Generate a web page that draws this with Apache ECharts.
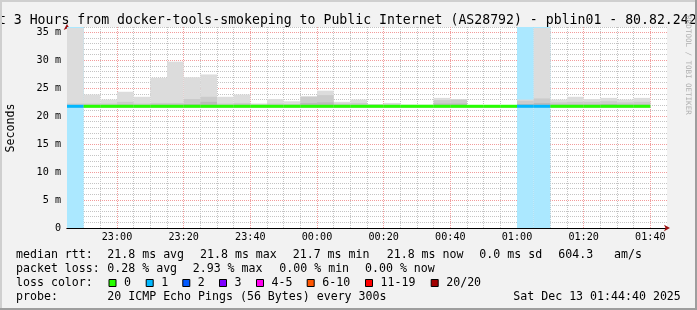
<!DOCTYPE html>
<html><head><meta charset="utf-8">
<script src="https://cdn.jsdelivr.net/npm/echarts@6/dist/echarts.min.js"></script>
<style>html,body{margin:0;padding:0;background:#f2f2f2}#c{width:697px;height:310px}</style>
</head><body><div id="c"></div>
<script>
// ---------- data ----------
const titleText = 'Last 3 Hours from docker-tools-smokeping to Public Internet (AS28792) - pblin01 - 80.82.242';
const yAxisName = 'Seconds';
const watermark = 'RRDTOOL / TOBI OETIKER';
const axisStartMin = 45;   // minutes after 22:00  (22:45)
const axisEndMin = 225;    // 01:45
const stepMin = 5;
const yMaxMs = 36;
const xTickValues = [60, 80, 100, 120, 140, 160, 180, 200, 220];
const xTickLabels = ['23:00', '23:20', '23:40', '00:00', '00:20', '00:40', '01:00', '01:20', '01:40'];
const yTickValues = [0, 5, 10, 15, 20, 25, 30, 35];
const yTickLabels = ['0', '5 m', '10 m', '15 m', '20 m', '25 m', '30 m', '35 m'];
const xMinorStep = 5;   // minutes between minor grid lines
const yMinorStep = 1;   // ms between minor grid lines

// one value per 5-minute step, starting 22:45
const smokeLow  = [21.6,21.6,21.6,21.6,21.6,21.6,21.6,21.6,21.6,21.6,21.6,21.6,21.6,21.6,21.6,21.6,21.6,21.6,21.6,21.6,21.6,21.6,21.6,21.6,21.6,21.6,21.6,21.6,21.6,21.6,21.6,21.6,21.6,21.6,21.6];
const smokeHigh = [35.8,23.9,23.0,24.4,23.5,26.9,29.8,27.0,27.5,23.5,23.9,22.3,23.1,22.7,23.6,24.6,22.6,23.0,22.2,22.4,22.1,22.1,23.3,23.1,22.0,22.0,22.0,23.0,35.8,23.0,23.5,23.1,23.3,23.0,23.3];
const smokeMid  = [22.3,22.3,22.3,22.6,22.3,22.4,22.4,23.1,23.5,22.3,22.4,22.1,22.3,22.2,23.5,23.8,22.3,22.4,22.1,22.1,22.0,22.0,22.9,23.0,21.9,21.9,21.9,22.8,23.2,22.5,22.6,22.6,22.7,22.5,22.6];
const smokeDark = [22.0,22.0,22.0,22.1,22.0,22.1,22.1,22.2,22.6,22.0,22.1,22.0,22.0,22.0,22.4,22.5,22.0,22.0,22.0,22.0,21.9,21.9,22.3,22.3,21.9,21.9,21.9,22.2,22.4,22.1,22.1,22.1,22.2,22.1,22.1];
const medianRtt = [21.8,21.8,21.8,21.8,21.8,21.8,21.8,21.8,21.8,21.8,21.8,21.8,21.8,21.8,21.8,21.8,21.8,21.8,21.8,21.8,21.8,21.8,21.8,21.8,21.8,21.8,21.8,21.8,21.8,21.8,21.8,21.8,21.8,21.8,21.8];
const lossCount = [1,0,0,0,0,0,0,0,0,0,0,0,0,0,0,0,0,0,0,0,0,0,0,0,0,0,0,1,1,0,0,0,0,0,0];

const lossLabels = ['0', '1', '2', '3', '4-5', '6-10', '11-19', '20/20'];
const lossColors = ['#26ff00', '#00b8ff', '#0059ff', '#7e00ff', '#ff00ee', '#ff5500', '#ff0000', '#a10000'];
const lossUpper  = [0, 1, 2, 3, 5, 10, 19, 20];

const rttLegend  = ['median rtt:', '21.8 ms avg', '21.8 ms max', '21.7 ms min', '21.8 ms now', '0.0 ms sd', '604.3', 'am/s'];
const lossLegend = ['packet loss:', '0.28 % avg', '2.93 % max', '0.00 % min', '0.00 % now'];
const lossColorHead = 'loss color:';
const probeLegend = ['probe:', '20 ICMP Echo Pings (56 Bytes) every 300s', 'Sat Dec 13 01:44:40 2025'];

// ---------- layout ----------
const FONT = 'DejaVu Sans Mono';
const G = {left: 67, top: 27, right: 667, bottom: 228};
const rttX = [16, 107.3, 200, 292.7, 386.7, 479.3, 558.3, 614];
const lossX = [16, 107.3, 192.7, 279.3, 365];
const swatchX = [108.5, 145.7, 182.3, 219, 256, 306.7, 365, 430.7];
const probeX = [16, 107.3, 513.3];
const rowY = [254.5, 268.5, 282.5, 296.5];
const minorColor = '#c4c4c4', majorColor = '#f29c9c', arrowColor = '#9b1010';

function bucket(n) { for (let i = 0; i < lossUpper.length; i++) if (n <= lossUpper[i]) return i; return lossUpper.length - 1; }
function lighten(hex, a) {
  const v = parseInt(hex.slice(1), 16), r = v >> 16, g = (v >> 8) & 255, b = v & 255;
  const m = c => Math.round(255 - (255 - c) * a);
  return 'rgb(' + m(r) + ',' + m(g) + ',' + m(b) + ')';
}
function xLabel(v) {
  for (let i = 0; i < xTickValues.length; i++) if (Math.abs(v - xTickValues[i]) < 1e-6) return xTickLabels[i];
  return '';
}
function yLabel(v) {
  for (let i = 0; i < yTickValues.length; i++) if (Math.abs(v - yTickValues[i]) < 1e-6) return yTickLabels[i];
  return '';
}

const steps = smokeHigh.map((_, k) => [axisStartMin + k * stepMin, axisStartMin + (k + 1) * stepMin]);
const band = (lo, hi) => steps.map((s, k) => [s[0], s[1], lo[k], hi[k]]);
const lossBars = [];
steps.forEach((s, k) => { if (lossCount[k] > 0) lossBars.push([s[0], s[1], 0, yMaxMs, bucket(lossCount[k])]); });
const medianData = steps.map((s, k) => [s[0], s[1], medianRtt[k], bucket(lossCount[k])]);

// grid line positions
const vMinor = [], hMinor = [];
for (let v = axisStartMin + xMinorStep; v < axisEndMin - 1e-9; v += xMinorStep)
  if (xTickValues.indexOf(v) < 0) vMinor.push([v, 0]);
for (let v = yMinorStep; v <= yMaxMs + 1e-9; v += yMinorStep)
  if (yTickValues.indexOf(v) < 0) hMinor.push([v, 0]);
const vMajor = xTickValues.map(v => [v, 0]);
const hMajor = yTickValues.filter(v => v > 0).map(v => [v, 0]);

// dotted grid lines drawn as 1px squares (one on, one off)
function gridSeries(data, vertical, color) {
  return {type: 'custom', xAxisIndex: 1, yAxisIndex: 1, data, silent: true,
    encode: vertical ? {x: 0, y: 1} : {y: 0, x: 1},
    renderItem: function (params, api) {
      const v = api.value(0);
      let d = '';
      if (vertical) {
        const a = api.coord([v, yMaxMs]), b = api.coord([v, 0]);
        const x = Math.floor(a[0]);
        for (let y = Math.round(a[1]); y < Math.round(b[1]); y += 2) d += 'M' + x + ' ' + y + 'h1v1h-1z';
      } else {
        const a = api.coord([axisStartMin, v]), b = api.coord([axisEndMin, v]);
        const y = Math.floor(a[1]);
        for (let x = Math.round(a[0]) + 1; x < Math.round(b[0]); x += 2) d += 'M' + x + ' ' + y + 'h1v1h-1z';
      }
      return {type: 'path', shape: {pathData: d}, style: {fill: color, stroke: null}};
    }};
}
function rectRender(fillFn) {
  return function (params, api) {
    const a = api.coord([api.value(0), api.value(3)]);
    const b = api.coord([api.value(1), api.value(2)]);
    return {type: 'rect', shape: {x: a[0], y: a[1], width: b[0] - a[0], height: b[1] - a[1]},
            style: {fill: fillFn(api)}};
  };
}
function bandSeries(data, color) {
  return {type: 'custom', xAxisIndex: 1, yAxisIndex: 1, data, encode: {x: [0, 1], y: [2, 3]},
          renderItem: rectRender(() => color), silent: true};
}

const graphics = [];
function txt(x, y, text) {
  graphics.push({type: 'text', x, y, silent: true,
    style: {text, fontFamily: FONT, fontSize: 11.6, fill: '#000', align: 'left', verticalAlign: 'middle'}});
}
graphics.push({type: 'text', x: -25.9, y: 20.8, silent: true,
  style: {text: titleText, fontFamily: FONT, fontSize: 13.2, fill: '#000', align: 'left', verticalAlign: 'middle'}});
graphics.push({type: 'text', x: 10.5, y: 128, rotation: Math.PI / 2, silent: true,
  style: {text: yAxisName, fontFamily: FONT, fontSize: 11.6, fill: '#000', align: 'center', verticalAlign: 'middle'}});
graphics.push({type: 'text', x: 687.5, y: 65, rotation: -Math.PI / 2, silent: true,
  style: {text: watermark, fontFamily: FONT, fontSize: 7.5, fill: '#b0b0b0', align: 'center', verticalAlign: 'middle'}});
rttLegend.forEach((t, i) => txt(rttX[i], rowY[0], t));
lossLegend.forEach((t, i) => txt(lossX[i], rowY[1], t));
txt(16, rowY[2], lossColorHead);
lossLabels.forEach((t, i) => {
  graphics.push({type: 'rect', silent: true, shape: {x: swatchX[i] + 0.5, y: 279.5, width: 7, height: 7},
    style: {fill: lossColors[i], stroke: '#000', lineWidth: 1}});
  txt(swatchX[i] + 15.5, rowY[2], t);
});
probeLegend.forEach((t, i) => txt(probeX[i], rowY[3], t));
graphics.push({type: 'rect', silent: true, shape: {x: 0, y: 308, width: 697, height: 2}, style: {fill: '#9e9e9e'}});
graphics.push({type: 'rect', silent: true, shape: {x: 695, y: 0, width: 2, height: 310}, style: {fill: '#9e9e9e'}});
graphics.push({type: 'rect', silent: true, shape: {x: 0, y: 0, width: 2, height: 308}, style: {fill: '#cfcfcf'}});
graphics.push({type: 'rect', silent: true, shape: {x: 0, y: 0, width: 695, height: 2}, style: {fill: '#cfcfcf'}});

const option = {
  animation: false,
  backgroundColor: '#f2f2f2',
  grid: {left: G.left, top: G.top, right: 697 - G.right, bottom: 310 - G.bottom,
         show: true, backgroundColor: '#ffffff', borderWidth: 0, containLabel: false},
  xAxis: [
    {type: 'value', position: 'bottom', min: axisStartMin, max: axisEndMin, interval: xMinorStep,
     axisLine: {show: true, lineStyle: {color: arrowColor, width: 1}, symbol: ['none', 'arrow'], symbolSize: [5, 6], symbolOffset: [0, 3]},
     axisTick: {show: false}, axisLabel: {show: false}, splitLine: {show: false}},
    {type: 'value', position: 'bottom', min: axisStartMin, max: axisEndMin, interval: xMinorStep,
     axisLine: {show: true, lineStyle: {color: '#000', width: 1}},
     axisTick: {show: false},
     axisLabel: {show: true, formatter: xLabel, fontFamily: FONT, fontSize: 10.15, color: '#000', margin: 4, hideOverlap: false},
     splitLine: {show: false}}
  ],
  yAxis: [
    {type: 'value', position: 'left', min: 0, max: yMaxMs, interval: yMinorStep,
     axisLine: {show: true, lineStyle: {color: arrowColor, width: 1}, symbol: ['none', 'arrow'], symbolSize: [5, 6], symbolOffset: [0, 3]},
     axisTick: {show: false}, axisLabel: {show: false}, splitLine: {show: false}},
    {type: 'value', position: 'left', min: 0, max: yMaxMs, interval: yMinorStep,
     axisLine: {show: true, lineStyle: {color: '#000', width: 1}},
     axisTick: {show: false},
     axisLabel: {show: true, fontFamily: FONT, fontSize: 10.15, color: '#000', margin: 6, formatter: yLabel, hideOverlap: false},
     splitLine: {show: false}}
  ],
  series: [
    gridSeries(vMinor, true, minorColor),
    gridSeries(hMinor, false, minorColor),
    gridSeries(vMajor, true, majorColor),
    gridSeries(hMajor, false, majorColor),
    {type: 'custom', xAxisIndex: 1, yAxisIndex: 1, data: lossBars, encode: {x: [0, 1], y: [2, 3]}, silent: true,
     renderItem: rectRender(api => lighten(lossColors[api.value(4)], 0.33))},
    bandSeries(band(smokeLow, smokeHigh), '#dcdcdc'),
    bandSeries(band(smokeLow, smokeMid), '#cbcbcb'),
    bandSeries(band(smokeLow, smokeDark), '#bababa'),
    {type: 'custom', xAxisIndex: 1, yAxisIndex: 1, data: medianData, encode: {x: [0, 1], y: 2}, silent: true,
     renderItem: function (params, api) {
       const a = api.coord([api.value(0), api.value(2)]);
       const b = api.coord([api.value(1), api.value(2)]);
       return {type: 'rect', shape: {x: a[0], y: a[1] - 1.5, width: b[0] - a[0], height: 3},
               style: {fill: lossColors[api.value(3)]}};
     }}
  ],
  graphic: graphics
};
const chart = echarts.init(document.getElementById('c'), null, {renderer: 'canvas', width: 697, height: 310});
chart.setOption(option);
</script></body></html>
